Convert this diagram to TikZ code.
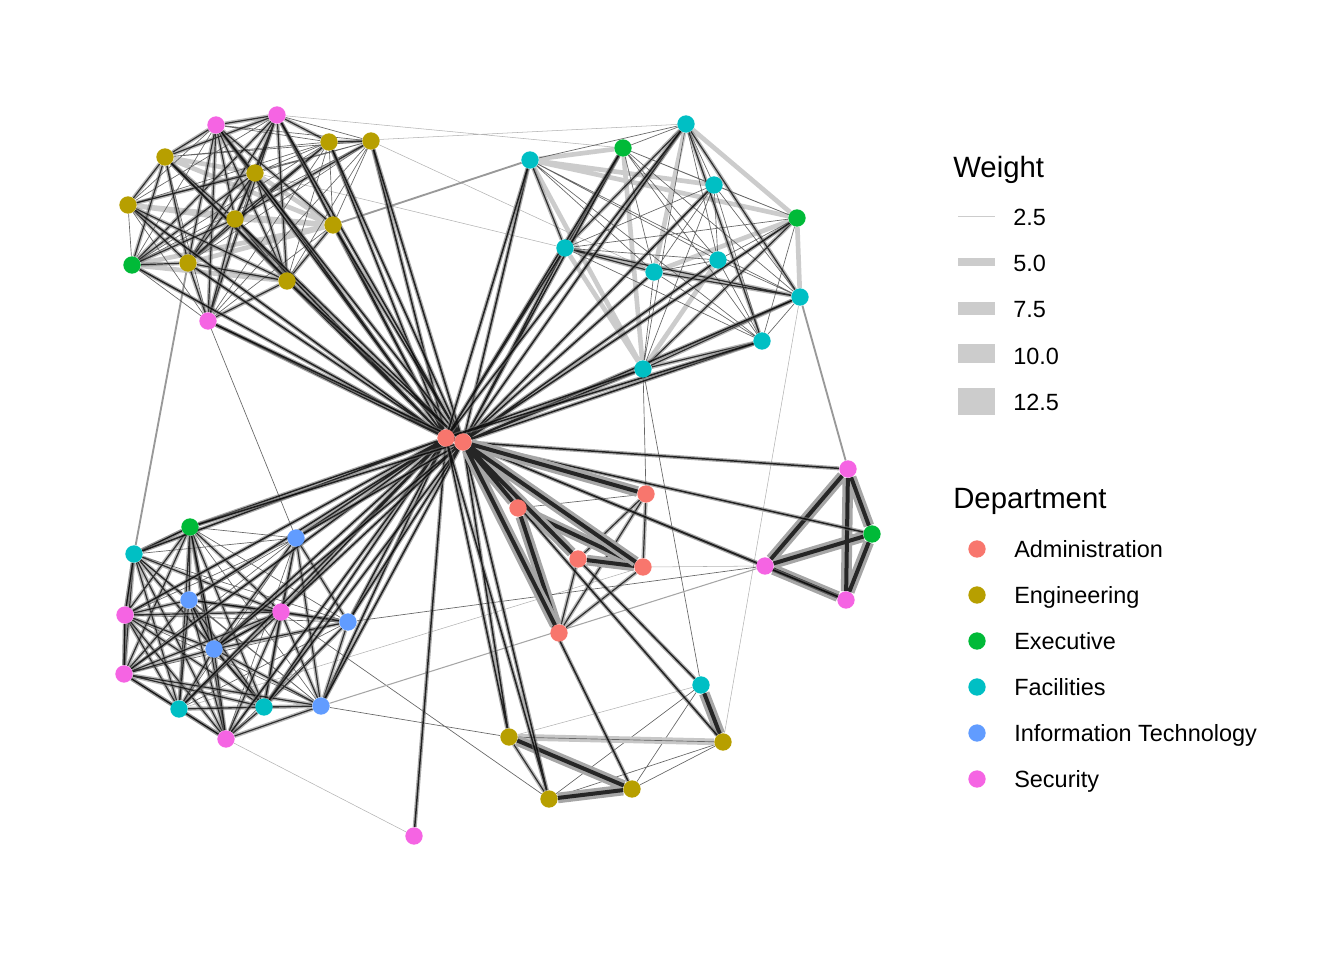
\documentclass[tikz,border=0pt]{standalone}
\usepackage{fontspec}
\setmainfont{Liberation Sans}
\usetikzlibrary{backgrounds}
\definecolor{admcol}{HTML}{F8766D}
\definecolor{engcol}{HTML}{B79F00}
\definecolor{execol}{HTML}{00BA38}
\definecolor{faccol}{HTML}{00BFC4}
\definecolor{itcol}{HTML}{619CFF}
\definecolor{seccol}{HTML}{F564E3}
\definecolor{keygray}{HTML}{CCCCCC}
\tikzset{
  dot/.style={circle,inner sep=0pt,minimum size=13pt},
  adm/.style={dot,fill=admcol},
  eng/.style={dot,fill=engcol},
  exe/.style={dot,fill=execol},
  fac/.style={dot,fill=faccol},
  it/.style={dot,fill=itcol},
  sec/.style={dot,fill=seccol},
  faintline/.style={draw=black!30,line width=0.4pt},
  greyline/.style={draw=black!40,line width=1.4pt},
  thinline/.style={draw=black!75,line width=0.5pt,opacity=.8},
  bandline/.style={draw=black!25,line width=3.5pt,opacity=.8},
  midline/.style={draw=black,line width=0.9pt,opacity=.75,
    preaction={draw=black!55,line width=3pt,opacity=.5}},
  hubline/.style={draw=black,line width=1.1pt,opacity=.8,
    preaction={draw=black!55,line width=3pt,opacity=.6}},
  heavyline/.style={draw=black!85,line width=3pt,
    preaction={draw=black!35,line width=8pt}},
  legtitle/.style={anchor=base west,inner sep=0pt,font=\fontsize{22}{26}\selectfont},
  leglabel/.style={anchor=base west,inner sep=0pt,font=\fontsize{17.6}{21}\selectfont},
}
\begin{document}
\begin{tikzpicture}[x=0.75pt,y=-0.75pt]
\useasboundingbox (0,0) rectangle (1344,960);

% administration
\node[adm] (a1) at (446,438) {};
\node[adm] (a2) at (463,442) {};
\node[adm] (a3) at (518,508) {};
\node[adm] (a4) at (646,494) {};
\node[adm] (a5) at (578,559) {};
\node[adm] (a6) at (643,567) {};
\node[adm] (a7) at (559,633) {};
% engineering
\node[eng] (e1) at (165,157) {};
\node[eng] (e2) at (255,173) {};
\node[eng] (e3) at (329,142) {};
\node[eng] (e4) at (371,141) {};
\node[eng] (e5) at (128,205) {};
\node[eng] (e6) at (235,219) {};
\node[eng] (e7) at (333,225) {};
\node[eng] (e8) at (188,263) {};
\node[eng] (e9) at (287,281) {};
\node[eng] (e10) at (509,737) {};
\node[eng] (e11) at (723,742) {};
\node[eng] (e12) at (549,799) {};
\node[eng] (e13) at (632,789) {};
% executive
\node[exe] (x1) at (132,265) {};
\node[exe] (x2) at (623,148) {};
\node[exe] (x3) at (797,218) {};
\node[exe] (x4) at (190,527) {};
\node[exe] (x5) at (872,534) {};
% facilities
\node[fac] (f1) at (686,124) {};
\node[fac] (f2) at (530,160) {};
\node[fac] (f3) at (714,185) {};
\node[fac] (f4) at (565,248) {};
\node[fac] (f5) at (718,260) {};
\node[fac] (f6) at (654,272) {};
\node[fac] (f7) at (800,297) {};
\node[fac] (f8) at (762,341) {};
\node[fac] (f9) at (643,369) {};
\node[fac] (f10) at (134,554) {};
\node[fac] (f11) at (179,709) {};
\node[fac] (f12) at (264,707) {};
\node[fac] (f13) at (701,685) {};
% information technology
\node[it] (t1) at (296,538) {};
\node[it] (t2) at (189,600) {};
\node[it] (t3) at (348,622) {};
\node[it] (t4) at (214,649) {};
\node[it] (t5) at (321,706) {};
% security
\node[sec] (s1) at (216,125) {};
\node[sec] (s2) at (277,115) {};
\node[sec] (s3) at (208,321) {};
\node[sec] (s4) at (848,469) {};
\node[sec] (s5) at (765,566) {};
\node[sec] (s6) at (846,600) {};
\node[sec] (s7) at (125,615) {};
\node[sec] (s8) at (281,612) {};
\node[sec] (s9) at (124,674) {};
\node[sec] (s10) at (226,739) {};
\node[sec] (s11) at (414,836) {};

\begin{pgfonlayer}{background}
% links between groups
\draw[faintline] (s2) -- (x2) (e4) -- (f6) (e2) -- (f4) (f7) -- (e11) (s10) -- (s11)
  (e10) -- (f13) (f11) -- (a6) (a6) -- (s5) (f1) -- (e3);
\draw[thinline] (s3) -- (t1) (f9) -- (f13) (f9) -- (a4) (t3) -- (s5) (t5) -- (e10)
  (s8) -- (e12) (e11) -- (e12) (e11) -- (e13) (e12) -- (f13) (e13) -- (f13) (a3) -- (a4);
\draw[greyline] (e7) -- (f2) (e8) -- (f10) (f7) -- (s4);
\draw[draw=black!35,line width=0.8pt] (t5) -- (s5);
\draw[draw=black!22,line width=5pt] (e10) -- (e11);
\draw[draw=black!60,line width=0.5pt] (e10) -- (e11);

% top left group
\draw[bandline] (e1) -- (e2) (e1) -- (e7) (e2) -- (e7) (e5) -- (e6) (e5) -- (e7)
  (e6) -- (e7) (e7) -- (e8) (e7) -- (x1) (e9) -- (x1);
\draw[thinline] (s1) -- (e3) (s1) -- (e4) (s1) -- (e5) (s1) -- (x1) (s2) -- (e4)
  (s2) -- (e5) (s2) -- (e7) (e1) -- (e3) (e1) -- (e4) (e1) -- (s3) (e2) -- (e3)
  (e2) -- (e4) (e2) -- (s3) (e3) -- (e5) (e3) -- (e7) (e3) -- (e9) (e3) -- (x1)
  (e3) -- (s3) (e4) -- (e5) (e4) -- (e7) (e4) -- (e8) (e4) -- (e9) (e4) -- (x1)
  (e4) -- (s3) (e5) -- (x1) (e5) -- (s3) (e7) -- (s3) (x1) -- (s3);
\draw[midline] (s1) -- (s2) (s1) -- (e1) (s1) -- (e2) (s1) -- (e6) (s1) -- (e7)
  (s1) -- (e8) (s1) -- (e9) (s1) -- (s3) (s2) -- (e1) (s2) -- (e2) (s2) -- (e3)
  (s2) -- (e6) (s2) -- (e8) (s2) -- (x1) (s2) -- (s3);
\draw[midline] (s2) -- (e9) (e1) -- (e5) (e1) -- (e6) (e1) -- (e8) (e1) -- (e9)
  (e1) -- (x1) (e2) -- (e5) (e2) -- (e6) (e2) -- (e8) (e2) -- (e9) (e2) -- (x1)
  (e3) -- (e4) (e3) -- (e6) (e3) -- (e8) (e4) -- (e6);
\draw[midline] (e5) -- (e8) (e5) -- (e9) (e6) -- (e8) (e6) -- (e9) (e6) -- (x1)
  (e6) -- (s3) (e7) -- (e9) (e8) -- (e9) (e8) -- (x1) (e8) -- (s3) (e9) -- (s3);

% top right group
\draw[bandline] (f2) -- (x2) (f2) -- (f9) (f2) -- (f3) (f2) -- (x3) (x2) -- (f9)
  (f1) -- (x3) (x3) -- (f7) (f4) -- (f9) (f6) -- (x3) (f1) -- (f6) (f5) -- (f9);
\draw[thinline] (f1) -- (f2) (f1) -- (x2) (f1) -- (f3) (f1) -- (f5) (f1) -- (f9)
  (f2) -- (f5) (f2) -- (f6) (f2) -- (f7) (f2) -- (f8) (x2) -- (f3) (x2) -- (x3)
  (x2) -- (f5) (x2) -- (f6) (x2) -- (f7) (x2) -- (f8) (f3) -- (f4) (f3) -- (f5)
  (f3) -- (f6) (f3) -- (f7) (f3) -- (f8) (f3) -- (f9) (f3) -- (x3) (f4) -- (f5)
  (f4) -- (x3) (f4) -- (f8) (f5) -- (f6) (f5) -- (f7) (f5) -- (f8) (f5) -- (x3)
  (f6) -- (f8) (f6) -- (f9) (f7) -- (f8) (f8) -- (x3);
\draw[midline] (f2) -- (f4) (x2) -- (f4) (f1) -- (f4) (f1) -- (f7) (f4) -- (f6)
  (f4) -- (f7) (f6) -- (f7) (x3) -- (f9) (f7) -- (f9) (f8) -- (f9) (f1) -- (f8);

% bottom left group
\draw[thinline] (x4) -- (t1) (x4) -- (t3) (x4) -- (t5) (f10) -- (t1) (f10) -- (t3)
  (t1) -- (s7) (t1) -- (s9) (t1) -- (f11) (t1) -- (s10) (t3) -- (s7) (t3) -- (s9)
  (t3) -- (f11) (t3) -- (s10) (t5) -- (f10) (t5) -- (s7) (t5) -- (t2) (t1) -- (t2);
\draw[midline] (x4) -- (f10) (x4) -- (t2) (x4) -- (s7) (x4) -- (s8) (x4) -- (t4)
  (x4) -- (s9) (x4) -- (f11) (x4) -- (f12) (x4) -- (s10) (f10) -- (t2) (f10) -- (s8)
  (f10) -- (t4) (f10) -- (s9) (f10) -- (f11) (f10) -- (f12) (f10) -- (s10);
\draw[midline] (t1) -- (s8) (t1) -- (t3) (t1) -- (t4) (t1) -- (f12) (t1) -- (t5)
  (t2) -- (s7) (t2) -- (s8) (t2) -- (t3) (t2) -- (t4) (t2) -- (s9) (t2) -- (f11)
  (t2) -- (f12) (t2) -- (s10) (s7) -- (t4) (s7) -- (f11) (s7) -- (f12);
\draw[midline] (s7) -- (s10) (s8) -- (t3) (s8) -- (t4) (s8) -- (s9) (s8) -- (f11)
  (s8) -- (f12) (s8) -- (t5) (s8) -- (s10) (t3) -- (t4) (t3) -- (f12) (t3) -- (t5)
  (t4) -- (s9) (t4) -- (f11) (t4) -- (f12) (t4) -- (t5) (t4) -- (s10);
\draw[midline] (s9) -- (f11) (s9) -- (f12) (s9) -- (t5) (s9) -- (s10) (f11) -- (f12)
  (f11) -- (t5) (f11) -- (s10) (f12) -- (t5) (f12) -- (s10) (t5) -- (s10)
  (s7) -- (s9) (s7) -- (s8) (f10) -- (s7);
\draw[midline] (x4) -- (f10) (f10) -- (s7) (s7) -- (s9) (t2) -- (t4) (s8) -- (t4)
  (s9) -- (s10) (x4) -- (t4) (t2) -- (s8);

% administration group
\draw[midline] (a3) -- (a5) (a4) -- (a5) (a4) -- (a7) (a4) -- (a6) (a5) -- (a7)
  (a6) -- (a7) (e10) -- (e12);
\draw[heavyline] (a3) -- (a7) (a3) -- (a6) (a5) -- (a6);

% right group
\draw[heavyline] (s4) -- (x5) (s4) -- (s5) (s4) -- (s6) (x5) -- (s5) (x5) -- (s6)
  (s5) -- (s6);
% bottom group
\draw[heavyline] (e10) -- (e13) (e12) -- (e13) (e11) -- (f13);

% hub
\draw[hubline] (a1) -- (a2) (a1) -- (s1) (a1) -- (s2) (a1) -- (e1) (a1) -- (e2)
  (a1) -- (e3) (a1) -- (e4) (a1) -- (e5) (a1) -- (e6) (a1) -- (e7) (a1) -- (e8)
  (a1) -- (e9) (a1) -- (x1) (a1) -- (s3) (a1) -- (s11);
\draw[hubline] (a2) -- (s2) (a2) -- (e3) (a2) -- (e4) (a2) -- (e7) (a2) -- (e9)
  (a2) -- (s3) (a2) -- (s1) (a2) -- (e6);
\draw[hubline] (a1) -- (x4) (a1) -- (f10) (a1) -- (t1) (a1) -- (t2) (a1) -- (s7)
  (a1) -- (s8) (a1) -- (t3) (a1) -- (t4) (a1) -- (s9) (a1) -- (f11) (a1) -- (f12)
  (a1) -- (t5) (a1) -- (s10);
\draw[hubline] (a2) -- (x4) (a2) -- (t1) (a2) -- (t3) (a2) -- (s8) (a2) -- (t5)
  (a2) -- (f12) (a2) -- (t4);
\draw[hubline] (a2) -- (f1) (a2) -- (f2) (a2) -- (x2) (a2) -- (f3) (a2) -- (f4)
  (a2) -- (f5) (a2) -- (f6) (a2) -- (f7) (a2) -- (f8) (a2) -- (f9) (a2) -- (x3);
\draw[hubline] (a1) -- (f2) (a1) -- (f4) (a1) -- (x2) (a1) -- (f1) (a1) -- (f9)
  (a1) -- (f8);
\draw[hubline] (a2) -- (s4) (a2) -- (x5) (a2) -- (s5) (a2) -- (s6) (a1) -- (e10)
  (a2) -- (e10) (a1) -- (e12) (a2) -- (e12) (a2) -- (e13) (a2) -- (e11) (a2) -- (f13);
\draw[heavyline] (a2) -- (a3) (a2) -- (a4) (a2) -- (a5) (a2) -- (a6) (a2) -- (a7);
\end{pgfonlayer}

% legend: weight
\node[legtitle] (wtitle) at (953,177) {Weight};
\fill[keygray] (958,215.5) rectangle (995,216.5);
\fill[keygray] (958,258) rectangle (995,266);
\fill[keygray] (958,301.5) rectangle (995,314.5);
\fill[keygray] (958,344) rectangle (995,363);
\fill[keygray] (958,388) rectangle (995,415);
\node[leglabel] (w1) at (1013,225) {2.5};
\node[leglabel] (w2) at (1013,271) {5.0};
\node[leglabel] (w3) at (1013,317) {7.5};
\node[leglabel] (w4) at (1013,364) {10.0};
\node[leglabel] (w5) at (1013,410) {12.5};

% legend: department
\node[legtitle] (dtitle) at (953,508) {Department};
\node[adm] (kadm) at (977,549) {};
\node[eng] (keng) at (977,595) {};
\node[exe] (kexe) at (977,641) {};
\node[fac] (kfac) at (977,687) {};
\node[it] (kit) at (977,733) {};
\node[sec] (ksec) at (977,779) {};
\node[leglabel] (ladm) at (1014,557) {Administration};
\node[leglabel] (leng) at (1014,603) {Engineering};
\node[leglabel] (lexe) at (1014,649) {Executive};
\node[leglabel] (lfac) at (1014,695) {Facilities};
\node[leglabel] (lit) at (1014,741) {Information Technology};
\node[leglabel] (lsec) at (1014,787) {Security};
\end{tikzpicture}
\end{document}
